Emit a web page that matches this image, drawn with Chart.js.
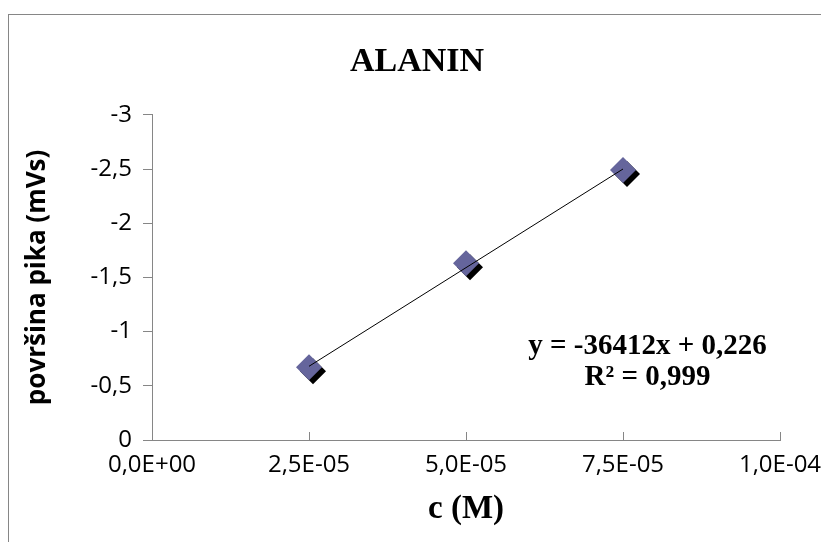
<!DOCTYPE html>
<html>
<head>
<meta charset="utf-8">
<script src="https://cdn.jsdelivr.net/npm/chart.js@4"></script>
<style>
html, body { margin: 0; padding: 0; background: #ffffff; overflow: hidden; width: 821px; height: 542px; }
#frame { position: absolute; left: 8px; top: 14px; width: 900px; height: 700px; border-left: 1px solid #868686; border-top: 1px solid #868686; }
#wrap { position: absolute; left: 0; top: 0; width: 821px; height: 542px; }
</style>
</head>
<body>
<div id="frame"></div>
<div id="wrap"><canvas id="c" width="821" height="542"></canvas></div>
<script>
// ---- data ----
const concentrations = [2.5e-5, 5.0e-5, 7.5e-5];
const peakAreas = [-0.67, -1.63, -2.49];
const trendX = [2.5e-5, 7.5e-5];
const trendY = [-0.68, -2.50];
const xTickValues = [0, 2.5e-5, 5.0e-5, 7.5e-5, 1.0e-4];
const xTickLabels = ['0,0E+00', '2,5E-05', '5,0E-05', '7,5E-05', '1,0E-04'];
const yTickValues = [-3, -2.5, -2, -1.5, -1, -0.5, 0];
const yTickLabels = ['-3', '-2,5', '-2', '-1,5', '-1', '-0,5', '0'];
const chartTitle = 'ALANIN';
const xTitle = 'c (M)';
const yTitle = 'površina pika (mVs)';
const equationLines = ['y = -36412x + 0,226', 'R² = 0,999'];

// ---- presentation ----
const axisGray = '#868686';
const markerColor = '#65659C';
const eqAnchor = { x: 7.89e-5, y: [-0.862, -0.578] };

const shadowPlugin = {
  id: 'markerShadow',
  beforeDatasetDraw(chart, args) {
    if (args.index !== 1) return;
    const ctx = chart.ctx;
    ctx.save();
    ctx.shadowColor = '#000000';
    ctx.shadowOffsetX = 4;
    ctx.shadowOffsetY = 4;
    ctx.shadowBlur = 0;
  },
  afterDatasetDraw(chart, args) {
    if (args.index !== 1) return;
    chart.ctx.restore();
  }
};

const equationPlugin = {
  id: 'equation',
  afterDatasetsDraw(chart) {
    const ctx = chart.ctx;
    const xs = chart.scales.x, ys = chart.scales.y;
    ctx.save();
    ctx.font = 'bold 29px "Liberation Serif"';
    ctx.fillStyle = '#000000';
    ctx.textAlign = 'center';
    ctx.textBaseline = 'middle';
    const px = xs.getPixelForValue(eqAnchor.x);
    equationLines.forEach((t, i) => {
      ctx.fillText(t, px, ys.getPixelForValue(eqAnchor.y[i]));
    });
    ctx.restore();
  }
};

Chart.defaults.font.family = '"Open Sans"';
Chart.defaults.color = '#000000';

new Chart(document.getElementById('c'), {
  type: 'scatter',
  data: {
    datasets: [
      {
        label: 'trend',
        data: trendX.map((x, i) => ({ x: x, y: trendY[i] })),
        showLine: true,
        borderColor: '#000000',
        borderWidth: 1,
        pointRadius: 0,
        order: 0
      },
      {
        label: 'ALANIN',
        data: concentrations.map((x, i) => ({ x: x, y: peakAreas[i] })),
        pointStyle: 'rectRot',
        pointRadius: 13,
        pointHoverRadius: 13,
        backgroundColor: markerColor,
        borderWidth: 0,
        order: 1
      }
    ]
  },
  options: {
    responsive: false,
    devicePixelRatio: 1,
    animation: false,
    events: [],
    layout: { padding: { left: 13, right: 0, top: 0, bottom: 0 } },
    plugins: {
      legend: { display: false },
      tooltip: { enabled: false },
      title: {
        display: true,
        text: chartTitle,
        color: '#000000',
        font: { family: '"Liberation Serif"', size: 34, weight: 'bold' },
        padding: { top: 42, bottom: 32 }
      }
    },
    scales: {
      x: {
        type: 'linear',
        min: 0,
        max: 1.0e-4,
        afterBuildTicks: s => { s.ticks = xTickValues.map(v => ({ value: v })); },
        afterFit: s => { s.height = 102; s.paddingRight = 41; s.paddingLeft = 0; },
        ticks: {
          autoSkip: false,
          maxRotation: 0,
          padding: 19,
          font: { size: 24 },
          color: '#000000',
          callback: (v, i) => xTickLabels[i]
        },
        grid: { drawOnChartArea: false, drawTicks: true, tickLength: -8, color: axisGray, lineWidth: 1 },
        border: { display: true, color: axisGray, width: 1 },
        title: {
          display: true,
          text: xTitle,
          color: '#000000',
          font: { family: '"Liberation Serif"', size: 33, weight: 'bold' },
          padding: { top: 0, bottom: 13 }
        }
      },
      y: {
        type: 'linear',
        min: -3,
        max: 0,
        reverse: true,
        afterBuildTicks: s => { s.ticks = yTickValues.map(v => ({ value: v })); },
        afterFit: s => { s.width = 139; },
        ticks: {
          autoSkip: false,
          padding: 11,
          font: { size: 24 },
          color: '#000000',
          callback: (v, i) => yTickLabels[i]
        },
        grid: { drawOnChartArea: false, drawTicks: true, tickLength: 9, color: axisGray, lineWidth: 1 },
        border: { display: true, color: axisGray, width: 1 },
        title: {
          display: true,
          text: yTitle,
          color: '#000000',
          font: { family: '"Open Sans"', size: 26, weight: 'bold' },
          padding: { top: 9, bottom: 0 }
        }
      }
    }
  },
  plugins: [shadowPlugin, equationPlugin]
});
</script>
</body>
</html>
